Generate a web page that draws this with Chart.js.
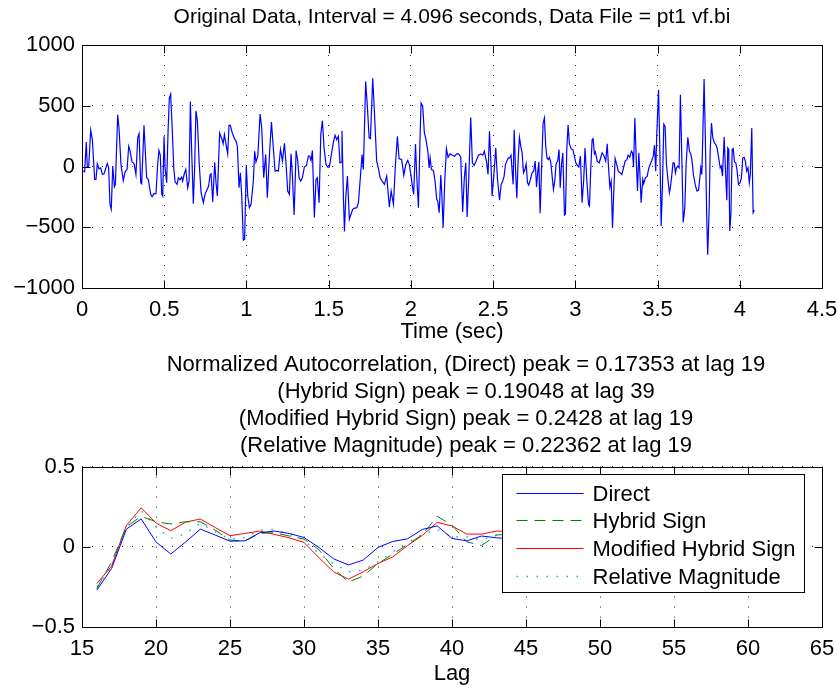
<!DOCTYPE html>
<html lang="en">

<head>
  <meta charset="UTF-8">
  <title>pt1 vf.bi</title>
  <script src="https://cdn.jsdelivr.net/npm/chart.js"></script>
  <style>
    body {
      margin: 0;
      background: #fff;
    }

    .panel {
      position: absolute;
      left: 0;
    }
  </style>
</head>

<body>

  <div class="panel" style="top:0"><canvas id="sigChart" width="837" height="345"></canvas></div>
  <div class="panel" style="top:345px"><canvas id="acfChart" width="837" height="344"></canvas></div>

  <script>
    // original signal (time in s, amplitude)
    const sigTime = [
      0.008, 0.016, 0.026, 0.032, 0.041, 0.053, 0.063, 0.077, 0.085, 0.093, 0.103, 0.114, 0.124, 0.134, 0.154, 0.162,
      0.170, 0.178, 0.187, 0.197, 0.203, 0.217, 0.225, 0.237, 0.251, 0.262, 0.274, 0.284, 0.292, 0.304, 0.312, 0.318,
      0.328, 0.339, 0.347, 0.357, 0.363, 0.377, 0.385, 0.393, 0.403, 0.418, 0.426, 0.438, 0.450, 0.460, 0.468, 0.476,
      0.485, 0.491, 0.499, 0.505, 0.515, 0.523, 0.531, 0.539, 0.549, 0.558, 0.566, 0.578, 0.586, 0.596, 0.606, 0.612,
      0.622, 0.631, 0.643, 0.651, 0.659, 0.667, 0.677, 0.685, 0.693, 0.702, 0.712, 0.724, 0.738, 0.748, 0.758, 0.770,
      0.779, 0.785, 0.795, 0.807, 0.815, 0.823,
      0.837, 0.850, 0.858, 0.866, 0.876, 0.886, 0.894, 0.902, 0.914, 0.927, 0.937, 0.945, 0.955, 0.963, 0.971, 0.981,
      0.989, 0.999, 1.008, 1.018, 1.028, 1.042, 1.050, 1.058, 1.069, 1.083, 1.093, 1.105, 1.117, 1.127, 1.140, 1.152,
      1.162, 1.174, 1.184, 1.194, 1.207, 1.219, 1.231, 1.241, 1.251, 1.261, 1.271, 1.279, 1.290, 1.302, 1.312, 1.320,
      1.330, 1.340, 1.352, 1.365, 1.377, 1.385, 1.393, 1.401, 1.413, 1.423, 1.431, 1.442, 1.452, 1.462, 1.472, 1.484,
      1.494, 1.504, 1.517, 1.529, 1.539, 1.549, 1.559, 1.569, 1.575, 1.581, 1.590, 1.596, 1.604, 1.614, 1.626, 1.636,
      1.646,
      1.655, 1.671, 1.681, 1.691, 1.703, 1.711, 1.725, 1.736, 1.746, 1.754, 1.768, 1.778, 1.792, 1.802, 1.813, 1.825,
      1.839, 1.853, 1.869, 1.880, 1.894, 1.906, 1.918, 1.928, 1.944, 1.957, 1.969, 1.981, 1.991, 2.001, 2.009, 2.017,
      2.028, 2.036, 2.046, 2.056, 2.062, 2.072, 2.082, 2.092, 2.103, 2.111, 2.117, 2.125, 2.137, 2.147, 2.157, 2.163,
      2.172, 2.182, 2.188, 2.196, 2.206, 2.216, 2.226, 2.238, 2.253, 2.265, 2.279, 2.291, 2.303, 2.315, 2.325, 2.334,
      2.342, 2.352, 2.364, 2.374, 2.384, 2.396, 2.411, 2.425, 2.437, 2.447, 2.461, 2.469,
      2.478, 2.488, 2.494, 2.504, 2.516, 2.526, 2.539, 2.549, 2.557, 2.567, 2.575, 2.583, 2.593, 2.601, 2.609, 2.617,
      2.622, 2.628, 2.636, 2.644, 2.652, 2.660, 2.670, 2.676, 2.685, 2.693, 2.701, 2.709, 2.717, 2.729, 2.737, 2.747,
      2.756, 2.764, 2.772, 2.778, 2.786, 2.796, 2.804, 2.812, 2.820, 2.828, 2.836, 2.842, 2.851, 2.859, 2.867, 2.875,
      2.883, 2.893, 2.901, 2.908, 2.916, 2.924, 2.934, 2.940, 2.948, 2.956, 2.964, 2.975, 2.985, 2.993, 3.003, 3.011,
      3.021, 3.031, 3.041, 3.051, 3.059, 3.070, 3.080, 3.086, 3.094, 3.102, 3.108, 3.116, 3.122, 3.133, 3.145, 3.155,
      3.163, 3.173, 3.185, 3.194, 3.202, 3.210, 3.218, 3.226, 3.234, 3.242, 3.252, 3.262, 3.273, 3.283, 3.293,
      3.303, 3.313, 3.321, 3.331, 3.341, 3.348, 3.354, 3.362, 3.370, 3.378, 3.386, 3.392, 3.400, 3.410, 3.416, 3.426,
      3.437, 3.447, 3.457, 3.467, 3.475, 3.481, 3.489, 3.495, 3.506, 3.514, 3.522, 3.530, 3.538, 3.546, 3.554, 3.562,
      3.572, 3.578, 3.586, 3.594, 3.601, 3.609, 3.615, 3.623, 3.631, 3.639, 3.648, 3.656, 3.666, 3.674, 3.684, 3.694,
      3.702, 3.710, 3.718, 3.729, 3.739, 3.749, 3.757, 3.763, 3.769, 3.775, 3.783, 3.791, 3.799, 3.805, 3.814, 3.820,
      3.828, 3.836, 3.846, 3.854, 3.862, 3.870, 3.881, 3.887, 3.895, 3.905, 3.913, 3.921, 3.927, 3.933, 3.939, 3.946,
      3.954, 3.960, 3.968, 3.976, 3.984, 3.992, 4.002, 4.010, 4.018, 4.026, 4.034, 4.042, 4.050, 4.058, 4.064, 4.073,
      4.081, 4.089
    ];
    const sigValue = [
      -38, -44, 202, -5, 3, 298, 221, -106, -106, 22, -19, -11, -66, -60, 25, -11,
      -311, -352, 3, -167, -147, 426, 317, 16, -115, -44, -25, 167, 131, 38, 30, 16,
      -66, 240, 270, -134, -142, 339, 126, -93, -106, -229, -248, -224, -224, 16, 131, 93,
      -229, -243, 248, -11, -134, 276, 562, 595, 303, -11, -126, -147, -93, -109, -87, -120,
      -60, -25, -175, -120, 535, 126, -306, -11, 459, 371, 44, -216, -298, -229, -197, -161,
      -66, -60, -292, 35, -134, -243,
      276, 229, 186, 262, 180, 104, 339, 339, 276, 229, 207, 167, -175, -52, -229, -606,
      -598, 8, -243, -339, -311, -120, 126, 38, 85, 431, 317, -93, 98, -257, 98, 366,
      180, -38, -33, -38, 142, 44, 191, 16, -202, -229, 104, -66, -399, 131, 44, -93,
      -120, -93, -5, 8, 87, 85, 49, 131, -420, -106, -93, -298, 262, 377, 153, 16,
      -5, -5, 104, 202, 257, 221, 248, 30, 35, 295, -270, -535, -257, -79, -434, -393,
      -352,
      -344, -339, -298, -120, 98, -25, 699, 480, 235, 229, 726, 453, 44, -11, -93, -120,
      -147, -79, -333, -202, -311, 16, 248, 66, 57, -71, 16, 49, 16, -79, -161, -229,
      186, -93, -339, 262, 521, 494, 276, 221, 126, -11, 71, -25, -33, -120, -270, -284,
      -380, -71, -229, -502, -120, 147, 76, 104, 93, 85, 104, 104, 76, -374, -93, 30,
      -415, -93, 404, 30, 8, 44, 93, 104, 93, 126, 30, -66,
      289, -11, -243, -79, 153, -93, -278, -147, -126, -79, 16, 44, 71, 71, 93, -66,
      -147, 303, -11, -262, 44, 240, 153, 120, -52, -25, 22, -134, -153, -93, -52, -38,
      44, -169, -38, 38, -385, 44, 358, 399, 167, 66, 57, 76, 30, -79, -188, -120,
      22, 49, 139, -175, 16, 112, -399, -393, 139, 344, 186, 145, 139, 93, 30, 11,
      -5, 85, -298, -106, 153, -115, -311, -325, -11, 221, 229, 104, 120, 44, 30, 76,
      112, 93, 44, 186, -11, -169, -120, -502, -202, 66, 16, -44, -52, -66, -11,
      44, 57, 93, 76, 126, 112, -5, 399, 71, -202, 112, -38, -298, -106, -142, -93,
      -79, -11, 22, 57, 93, 175, -38, 262, 631, 126, -489, -147, 349, 330, 16, -93,
      -216, -175, -79, 30, 30, -52, -11, 3, -11, 590, 44, -461, -339, 30, 240, 126,
      104, 44, -66, -147, -202, -197, -93, -11, -66, 248, 721, 207, -420, -726, -339, 126,
      358, 235, 194, 180, 153, 85, -11, 3, -79, 243, -25, -278, 153, 139, -530, -393,
      139, 147, 38, 30, -38, -147, -134, -93, 71, 76, 44, -38, -11, -134, -66, 317,
      -380, -360
    ];
    const sigXTicks = [0, 0.5, 1, 1.5, 2, 2.5, 3, 3.5, 4, 4.5];
    const sigYTicks = [-1000, -500, 0, 500, 1000];

    // autocorrelation estimates versus lag
    const lags = [16, 17, 18, 19, 20, 21, 22, 23, 24, 25, 26, 27, 28, 29, 30, 31, 32, 33, 34, 35, 36, 37, 38, 39, 40, 41, 42, 43, 44];
    const acfDirect = [-0.27, -0.135, 0.11, 0.174, 0.03, -0.045, 0.03, 0.11, 0.073, 0.035, 0.037, 0.087, 0.098, 0.083, 0.058,
      -0.004, -0.075, -0.113, -0.083, -0.004, 0.033, 0.05, 0.108, 0.13, 0.052, 0.037, 0.067, 0.056, 0.05];
    const acfHybrid = [-0.26, -0.094, 0.125, 0.19, 0.156, 0.142, 0.156, 0.156, 0.104, 0.042, 0.035, 0.083, 0.088, 0.067, 0.048,
      -0.017, -0.135, -0.219, -0.183, -0.104, -0.046, 0.015, 0.075, 0.19, 0.135, 0.031, 0.008, 0.073, 0.08];
    const acfModHybrid = [-0.23, -0.12, 0.133, 0.243, 0.148, 0.1, 0.154, 0.173, 0.12, 0.069, 0.083, 0.098, 0.077, 0.056, 0.027,
      -0.067, -0.156, -0.202, -0.156, -0.104, -0.063, 0.008, 0.071, 0.152, 0.13, 0.079, 0.079, 0.098, 0.095];
    const acfRelMag = [-0.25, -0.12, 0.12, 0.224, 0.125, 0.052, 0.083, 0.146, 0.094, 0.048, 0.058, 0.104, 0.108, 0.079, 0.042,
      -0.042, -0.104, -0.156, -0.146, -0.094, -0.031, 0.025, 0.079, 0.108, 0.063, 0.063, 0.042, 0.073, 0.07];
    const lagTicks = [15, 20, 25, 30, 35, 40, 45, 50, 55, 60, 65];
    const acfYTicks = [-0.5, 0, 0.5];

    const FONT = { family: "'Liberation Sans', Arial, sans-serif", size: 22, lineHeight: 1.2 };
    Chart.defaults.color = '#000';
    Chart.defaults.font = FONT;

    const minus = v => String(v).replace('-', '\u2212');

    // matlab style axes: black box, ticks pointing inwards on all four sides
    const boxPlugin = {
      id: 'mbox',
      afterDatasetsDraw(chart) {
        const { ctx, chartArea: a, scales } = chart;
        const L = Math.round(a.left) + 0.5, R = Math.round(a.right) + 0.5;
        const T = Math.round(a.top) + 0.5, B = Math.round(a.bottom) + 0.5;
        ctx.save();
        ctx.strokeStyle = '#000';
        ctx.lineWidth = 1;
        ctx.setLineDash([]);
        ctx.beginPath();
        scales.x.ticks.forEach(t => {
          const px = Math.round(scales.x.getPixelForValue(t.value)) + 0.5;
          ctx.moveTo(px, B); ctx.lineTo(px, B - 8);
          ctx.moveTo(px, T); ctx.lineTo(px, T + 8);
        });
        scales.y.ticks.forEach(t => {
          const py = Math.round(scales.y.getPixelForValue(t.value)) + 0.5;
          ctx.moveTo(L, py); ctx.lineTo(L + 8, py);
          ctx.moveTo(R, py); ctx.lineTo(R - 8, py);
        });
        ctx.stroke();
        ctx.strokeRect(L, T, R - L, B - T);
        ctx.restore();
      }
    };

    // nudge the title block sideways (matlab placed the lower title a bit right of centre)
    const titleShift = dx => ({
      id: 'tshift',
      afterLayout(chart) {
        if (chart.titleBlock) {
          chart.titleBlock.left += dx;
          chart.titleBlock.right += dx;
        }
      }
    });

    // boxed legend inside the upper right corner
    const legendPlugin = {
      id: 'mlegend',
      afterDatasetsDraw(chart) {
        const { ctx, chartArea: a } = chart;
        const w = 302, h = 118;
        const x0 = Math.round(a.right - 18 - w) + 0.5, y0 = Math.round(a.top + 7) + 0.5;
        ctx.save();
        ctx.fillStyle = '#fff';
        ctx.fillRect(x0, y0, w, h);
        ctx.strokeStyle = '#000';
        ctx.lineWidth = 1;
        ctx.setLineDash([]);
        ctx.strokeRect(x0, y0, w, h);
        ctx.font = `22px ${FONT.family}`;
        ctx.textBaseline = 'middle';
        chart.data.datasets.forEach((ds, i) => {
          const y = Math.round(y0 + 18 + i * 27.7) + 0.5;
          ctx.strokeStyle = ds.borderColor;
          ctx.lineWidth = ds.borderWidth;
          ctx.setLineDash(ds.borderDash || []);
          ctx.beginPath();
          ctx.moveTo(x0 + 14, y);
          ctx.lineTo(x0 + 81, y);
          ctx.stroke();
          ctx.fillStyle = '#000';
          ctx.fillText(ds.label, x0 + 90, y + 1);
        });
        ctx.restore();
      }
    };

    function axes(xMin, xMax, xTicks, yMin, yMax, yTicks, xTitle, xHeight, titlePadBottom) {
      const grid = { color: 'rgba(0,0,0,0.85)', lineWidth: 1, drawTicks: false };
      const border = { display: false, dash: [1, 9] };
      return {
        x: {
          type: 'linear', min: xMin, max: xMax,
          grid, border,
          afterBuildTicks: s => { s.ticks = xTicks.map(v => ({ value: v })); },
          afterFit: s => { s.height = xHeight; s.paddingLeft = 0; s.paddingRight = 0; },
          ticks: { padding: 9, maxRotation: 0, autoSkip: false, callback: minus },
          title: { display: true, text: xTitle, padding: { top: 0, bottom: titlePadBottom } }
        },
        y: {
          type: 'linear', min: yMin, max: yMax,
          grid, border,
          afterBuildTicks: s => { s.ticks = yTicks.map(v => ({ value: v })); },
          afterFit: s => { s.width = 82; s.paddingTop = 0; s.paddingBottom = 0; },
          ticks: { padding: 7, autoSkip: false, callback: minus }
        }
      };
    }

    new Chart(document.getElementById('sigChart'), {
      type: 'line',
      data: {
        datasets: [{
          label: 'pt1 vf.bi',
          data: sigTime.map((t, i) => ({ x: t, y: sigValue[i] })),
          borderColor: '#0000ff',
          borderWidth: 1.2,
          pointRadius: 0,
          tension: 0
        }]
      },
      options: {
        responsive: false,
        animation: false,
        layout: { padding: { left: 0, right: 15, top: 0, bottom: 0 } },
        plugins: {
          legend: { display: false },
          tooltip: { enabled: false },
          title: {
            display: true, fullSize: false,
            text: 'Original Data, Interval = 4.096 seconds, Data File = pt1 vf.bi',
            font: { weight: 'normal', size: 21 },
            padding: { top: 4.5, bottom: 15.3 }
          }
        },
        scales: axes(0, 4.5, sigXTicks, -1000, 1000, sigYTicks, 'Time (sec)', 57, 0)
      },
      plugins: [boxPlugin]
    });

    new Chart(document.getElementById('acfChart'), {
      type: 'line',
      data: {
        datasets: [
          { label: 'Direct', data: lags.map((l, i) => ({ x: l, y: acfDirect[i] })), borderColor: '#0000ff', borderWidth: 1 },
          { label: 'Hybrid Sign', data: lags.map((l, i) => ({ x: l, y: acfHybrid[i] })), borderColor: '#008000', borderWidth: 1, borderDash: [11, 7] },
          { label: 'Modified Hybrid Sign', data: lags.map((l, i) => ({ x: l, y: acfModHybrid[i] })), borderColor: '#ff0000', borderWidth: 1 },
          { label: 'Relative Magnitude', data: lags.map((l, i) => ({ x: l, y: acfRelMag[i] })), borderColor: '#00bfbf', borderWidth: 1.5, borderDash: [1.5, 8.5] }
        ]
      },
      options: {
        responsive: false,
        animation: false,
        elements: { point: { radius: 0 }, line: { tension: 0 } },
        layout: { padding: { left: 0, right: 15, top: 0, bottom: 0 } },
        plugins: {
          legend: { display: false },
          tooltip: { enabled: false },
          title: {
            display: true, fullSize: false,
            text: [
              'Normalized Autocorrelation, (Direct) peak = 0.17353 at lag 19',
              '(Hybrid Sign) peak = 0.19048 at lag 39',
              '(Modified Hybrid Sign) peak = 0.2428 at lag 19',
              '(Relative Magnitude) peak = 0.22362 at lag 19'
            ],
            font: { weight: 'normal', lineHeight: 1.22 },
            padding: { top: 6.5, bottom: 7.7 }
          }
        },
        scales: axes(15, 65, lagTicks, -0.5, 0.5, acfYTicks, 'Lag', 62, 1.5)
      },
      plugins: [boxPlugin, legendPlugin, titleShift(14)]
    });
  </script>

</body>

</html>
